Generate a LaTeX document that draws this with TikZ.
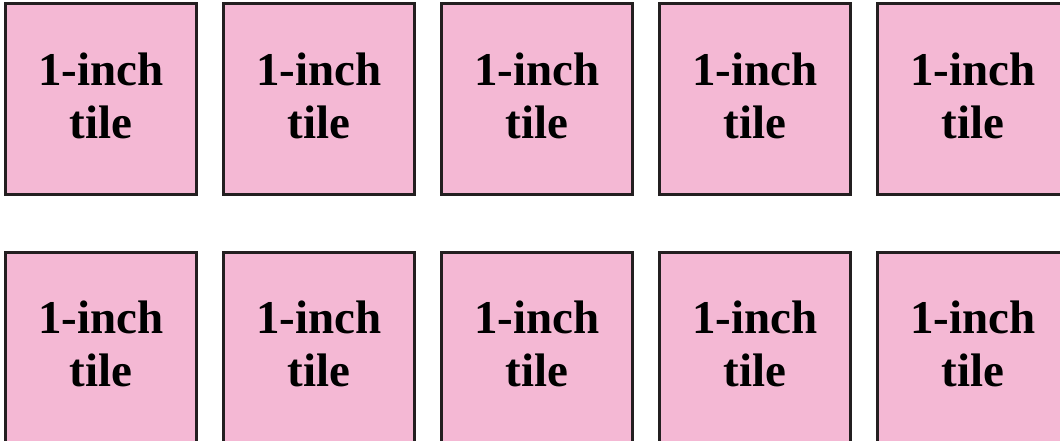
\documentclass[tikz,border=0pt]{standalone}
\usepackage{fontspec}
\setmainfont{Liberation Serif}
\usepackage{xcolor}
\usetikzlibrary{positioning}
\definecolor{tilepink}{RGB}{244,184,212}
\definecolor{tileedge}{RGB}{35,31,32}

\begin{document}
\begin{tikzpicture}[
  tile/.style={draw=tileedge, line width=3pt, fill=tilepink,
               minimum width=191pt, minimum height=190pt, inner sep=0pt,
               text depth=6pt, align=center,
               font=\fontsize{47}{53}\selectfont\bfseries},
  node distance=55pt and 24pt
]
  \useasboundingbox (0,0) rectangle (1060pt,440pt);

  % Top row
  \node[tile] (top1) at (101pt,341pt) {1-inch\\tile};
  \node[tile, right=of top1] (top2) {1-inch\\tile};
  \node[tile, right=of top2] (top3) {1-inch\\tile};
  \node[tile, right=of top3] (top4) {1-inch\\tile};
  \node[tile, right=of top4] (top5) {1-inch\\tile};

  % Bottom row
  \node[tile, below=of top1] (bot1) {1-inch\\tile};
  \node[tile, right=of bot1] (bot2) {1-inch\\tile};
  \node[tile, right=of bot2] (bot3) {1-inch\\tile};
  \node[tile, right=of bot3] (bot4) {1-inch\\tile};
  \node[tile, right=of bot4] (bot5) {1-inch\\tile};
\end{tikzpicture}
\end{document}
